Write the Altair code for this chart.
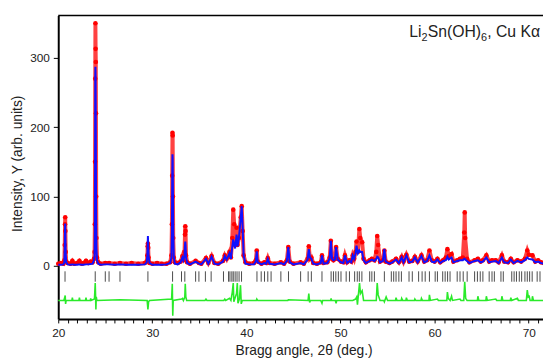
import altair as alt
import pandas as pd

# ---------------- data ----------------
two_theta = [
    20.0, 20.3, 20.55, 20.65, 20.69, 20.72, 20.74, 20.76, 20.79, 20.85, 21.0,
    21.3, 21.5, 21.7, 22.0, 22.25, 22.5, 22.7, 22.95, 23.2, 23.45, 23.65, 23.8,
    23.86, 23.89, 23.91, 23.93, 23.95, 23.97, 23.99, 24.01, 24.03, 24.06, 24.12, 24.25, 24.5,
    25.0, 25.4, 26.0, 26.56, 27.2, 27.8, 28.5, 29.2,
    29.40, 29.47, 29.51, 29.53, 29.56, 29.6, 29.7,
    30.0, 30.5, 31.0, 31.5, 31.9,
    32.03, 32.08, 32.11, 32.14, 32.16, 32.19, 32.22, 32.28, 32.4,
    32.7, 33.0, 33.2, 33.3, 33.42, 33.47, 33.5, 33.53, 33.58, 33.7, 34.0,
    34.6, 34.95, 35.2, 35.7, 35.95, 36.3, 36.6, 37.0, 37.5, 37.7, 37.9,
    38.2, 38.35, 38.5, 38.6, 38.7, 38.8, 38.95, 39.05, 39.2, 39.4, 39.5, 39.6, 39.7, 39.9,
    40.3, 40.8, 41.0, 41.1, 41.2, 41.6, 41.9, 42.1, 42.27, 42.45, 43.0, 43.66, 44.0,
    44.3, 44.45, 44.6, 45.0, 45.76, 46.1, 46.5, 46.63, 46.75, 46.9, 47.1, 47.5,
    47.9, 48.03, 48.2, 48.6, 48.85, 48.97, 49.1, 49.25, 49.4, 49.53, 49.7, 50.05, 50.3, 50.47, 50.7, 50.95, 51.15,
    51.3, 51.45, 51.6, 51.7, 51.85, 52.0, 52.1, 52.3, 52.45, 52.7,
    53.1, 53.33, 53.6, 53.8, 53.9, 54.0, 54.2, 54.5, 54.66, 54.8, 55.2, 55.5, 55.9, 56.2, 56.5, 56.7, 57.0, 57.3,
    57.63, 57.9, 58.2, 58.6, 58.9, 59.2, 59.45, 59.7, 60.0, 60.3, 60.6, 60.9, 61.2, 61.36, 61.5, 61.8, 62.0,
    62.4, 62.7, 63.0, 63.15, 63.2, 63.25, 63.45, 63.7, 64.25, 64.6, 64.9, 65.13, 65.5, 65.8, 66.1, 66.5, 66.8,
    67.15, 67.4, 67.8, 68.1, 68.4, 68.8, 69.2, 69.6, 69.85, 70.0, 70.4, 70.7, 71.0, 71.3, 71.6,
]
y_obs = [
    3, 4, 3, 8, 30, 60, 70, 50, 20, 6, 4,
    3, 7, 3, 4, 7, 3, 4, 7, 4, 6, 5, 10,
    20, 60, 150, 270, 350, 313, 294, 220, 100, 40, 12, 5, 3,
    4, 4, 3, 4, 3, 4, 3, 4,
    6, 15, 28, 32, 26, 12, 4,
    3, 4, 3, 3, 5,
    15, 60, 130, 192, 188, 100, 40, 12, 5,
    4, 6, 14, 8, 20, 45, 57, 50, 15, 5, 3,
    7, 4, 3, 11, 4, 14, 4, 3, 7, 15, 10,
    20, 12, 40, 81, 60, 30, 55, 30, 40, 70, 86, 50, 15, 5,
    3, 4, 8, 22, 6, 3, 5, 4, 11, 4, 3, 5, 3,
    8, 27, 6, 3, 5, 3, 10, 28, 10, 12, 4, 3,
    5, 15, 4, 5, 12, 36, 10, 8, 10, 27, 10, 6, 5, 15, 5, 8, 6,
    15, 10, 20, 35, 20, 53, 40, 34, 10, 5,
    8, 10, 8, 20, 43, 30, 6, 8, 22, 6, 4, 6, 10, 5, 13, 6, 16, 6,
    7, 13, 6, 15, 6, 8, 22, 8, 6, 10, 5, 8, 12, 24, 14, 17, 6,
    8, 10, 12, 48, 77, 40, 10, 5, 8, 10, 6, 8, 15, 6, 8, 8, 5,
    15, 6, 5, 10, 5, 8, 6, 10, 22, 16, 15, 6, 8, 5, 4,
]
y_calc = [
    1.5, 1.5, 2, 5, 25, 55, 61, 45, 18, 5, 2,
    1.5, 2, 1.5, 1.5, 2, 1.5, 1.5, 2, 2, 2.5, 3, 8,
    15, 50, 140, 270, 287, 270, 200, 120, 60, 25, 8, 3, 1.5,
    2, 2, 1.5, 2, 1.5, 1.5, 1.5, 2,
    5, 15, 35, 43, 30, 14, 4,
    1.5, 1.5, 1.5, 2, 4,
    12, 50, 120, 161, 155, 110, 50, 12, 3,
    2, 5, 12, 8, 15, 30, 35, 30, 12, 4, 2,
    6, 3, 2, 10, 3, 13, 3, 2, 6, 14, 9,
    18, 10, 28, 38, 30, 25, 45, 28, 40, 70, 86, 55, 15, 3,
    2, 2, 7, 21, 5, 2, 4, 3, 10, 3, 2, 4, 2,
    7, 27, 5, 2, 4, 2, 9, 24, 12, 10, 3, 2,
    4, 15, 3, 4, 11, 36, 10, 8, 9, 27, 9, 5, 4, 15, 4, 7, 5,
    15, 10, 18, 29, 18, 22, 20, 20, 8, 4,
    7, 9, 7, 10, 13, 12, 5, 7, 24, 6, 3, 5, 9, 4, 12, 5, 15, 5,
    6, 12, 5, 14, 5, 7, 15, 6, 5, 9, 4, 7, 8, 13, 9, 12, 5,
    7, 8, 8, 10, 10, 9, 7, 4, 7, 8, 5, 6, 12, 5, 6, 7, 4,
    12, 5, 4, 9, 4, 7, 5, 8, 12, 10, 9, 5, 6, 4, 3,
]

diff_x = [
    20.0, 20.6, 20.7, 20.74, 20.78, 20.84, 21.45, 21.5, 21.55, 22.2, 22.25, 22.3,
    22.9, 22.95, 23.0, 23.4, 23.45, 23.5, 23.85, 23.93, 23.97, 24.0, 24.04, 24.1,
    26.56, 29.45, 29.53, 29.6, 29.7, 32.05, 32.12, 32.17, 32.22,
    33.1, 33.2, 33.3, 33.45, 33.5, 33.56, 33.65, 35.6, 35.7, 35.8, 37.6, 37.7, 37.8,
    38.2, 38.35, 38.5, 38.6, 38.66, 38.8, 38.95, 39.03, 39.1, 39.25, 39.37, 39.45, 39.55,
    41.05, 41.1, 41.2, 44.4, 44.45, 46.55, 46.63, 46.72, 46.8, 47.9, 48.03, 48.1,
    48.95, 49.0, 49.05, 49.45, 49.53, 49.6, 51.3, 51.6, 51.72, 51.8, 52.02, 52.12, 52.3, 52.45,
    53.8, 53.9, 54.0, 54.2, 54.6, 54.66, 54.85, 55.0, 55.85, 55.9, 56.0, 56.45, 56.5, 56.6,
    56.95, 57.0, 57.1, 57.85, 57.9, 58.0, 58.55, 58.6, 58.7, 59.4, 59.45, 59.55, 60.3, 60.4,
    61.3, 61.36, 61.45, 61.65, 61.8, 61.9, 62.7, 62.8, 63.1, 63.2, 63.3, 63.45,
    64.55, 64.6, 64.7, 65.45, 65.5, 65.6, 66.5, 66.6, 67.1, 67.15, 67.25, 68.05, 68.1, 68.2,
    68.8, 68.9, 69.75, 69.85, 69.95, 70.05, 70.15, 70.35, 70.4, 70.5, 71.6,
]
diff_y = [
    -50, -50, -45, -43, -55, -50, -50, -46, -50, -50, -46, -50,
    -50, -46, -50, -50, -47, -50, -48, -25, -45, -63, -45, -50,
    -49, -50, -63, -52, -50, -48, -26, -72, -50,
    -48, -47, -50, -45, -26, -45, -50, -50, -48, -50, -50, -48, -50,
    -47, -50, -38, -25, -52, -46, -40, -25, -54, -48, -28, -55, -50,
    -50, -48, -50, -50, -49, -50, -40, -53, -50, -50, -54, -50,
    -50, -47, -50, -50, -54, -50, -50, -48, -45, -56, -25, -40, -36, -50,
    -50, -25, -42, -50, -50, -52, -45, -50, -50, -46, -50, -50, -47, -50,
    -50, -46, -50, -50, -48, -50, -50, -47, -50, -50, -42, -50, -48, -50,
    -50, -38, -47, -50, -44, -50, -48, -50, -50, -23, -47, -50,
    -50, -44, -50, -50, -44, -50, -48, -50, -50, -44, -50, -50, -46, -50,
    -47, -50, -50, -35, -45, -44, -50, -50, -44, -50, -50,
]

bragg_positions = [
    20.72, 23.93, 25.0, 25.4, 26.56, 29.53, 32.15, 33.1, 33.45, 34.6, 34.95,
    35.64, 36.25, 37.56, 38.1, 38.25, 38.45, 38.6, 38.8, 39.0, 39.22, 39.48,
    41.12, 41.57, 41.92, 42.27, 42.62, 43.66, 44.47, 45.76, 46.56, 46.9, 48.03,
    49.0, 49.25, 49.5, 49.77, 50.05, 50.6, 50.95, 51.5, 51.78, 52.0, 52.27,
    53.1, 53.33, 53.6, 54.66, 55.4, 55.65, 55.9, 56.2, 56.47, 57.28, 57.63,
    58.3, 58.67, 59.0, 59.45, 60.06, 60.3, 60.86, 61.12, 61.38, 61.64, 62.4,
    62.7, 63.04, 63.46, 64.25, 64.55, 64.85, 65.13, 65.8, 66.1, 66.35, 67.05,
    67.3, 68.2, 68.45, 68.7, 69.0, 69.25, 69.6, 69.85, 70.1, 70.37, 70.9, 71.2,
]

y_tick_values = [0, 100, 200, 300]
x_tick_values = list(range(20, 72))
# formula label pieces: (text, is_subscript)
label_pieces = [("Li", False), ("2", True), ("Sn(OH)", False), ("6", True), (", Cu K\u03b1", False)]
x_title = "Bragg angle, 2\u03b8 (deg.)"
y_title = "Intensity, Y (arb. units)"

assert len(two_theta) == len(y_obs) == len(y_calc)
assert len(diff_x) == len(diff_y)

# ---------------- chart ----------------
W, H = 492, 308
FONT = "Liberation Sans"
MAIN_FS, SUB_FS = 16, 11

profile = pd.DataFrame({"x": two_theta, "obs": y_obs, "calc": y_calc})
diff_df = pd.DataFrame({"x": diff_x, "d": diff_y})
bragg_df = pd.DataFrame({"x": bragg_positions})

xs = alt.Scale(domain=[20, 71.52], nice=False, zero=False)
ys = alt.Scale(domain=[-76.8, 361.1], nice=False, zero=False)

x_axis = alt.Axis(
    title=x_title, values=x_tick_values,
    labelExpr="datum.value % 10 === 0 ? datum.label : ''",
    tickSize=4, labelPadding=5, labelFlush=False,
    titleX=249, titleY=36, titleBaseline="alphabetic", titleAlign="center",
)
y_axis = alt.Axis(
    title=y_title, values=y_tick_values, tickSize=5, labelPadding=4,
    titleX=-37, titleY=150, titleBaseline="alphabetic", titleAlign="center", titleAngle=-90,
)

X = alt.X("x:Q", scale=xs, axis=x_axis)

ticks = alt.Chart(bragg_df).transform_calculate(t1="-8", t2="-23").mark_rule(
    color="#4a4a4a", strokeWidth=1
).encode(x=X, y=alt.Y("t1:Q", scale=ys, axis=y_axis), y2="t2:Q")

diff_line = alt.Chart(diff_df).mark_line(color="#2aea2a", strokeWidth=1.6).encode(
    x=X, y=alt.Y("d:Q", scale=ys, axis=y_axis)
)

obs_band = alt.Chart(profile).mark_line(color="#ff2020", strokeWidth=4, opacity=0.85).encode(
    x=X, y=alt.Y("obs:Q", scale=ys, axis=y_axis)
)
obs_pts = alt.Chart(profile).mark_circle(color="#ff0000", size=22, opacity=1).encode(
    x=X, y=alt.Y("obs:Q", scale=ys, axis=y_axis)
)
calc_line = alt.Chart(profile).mark_line(color="#1010ff", strokeWidth=2).encode(
    x=X, y=alt.Y("calc:Q", scale=ys, axis=y_axis)
)

# label built from pieces, laid out right-to-left from the right end
char_w = {"L": 0.556, "i": 0.222, "S": 0.667, "n": 0.556, "(": 0.333, "O": 0.778,
          "H": 0.722, ")": 0.333, ",": 0.278, " ": 0.278, "C": 0.722, "u": 0.556,
          "K": 0.667, "\u03b1": 0.58, "2": 0.556, "6": 0.556}
one = pd.DataFrame({"a": [0]})
label_layers = []
right = 489
for text, sub in reversed(label_pieces):
    fs = SUB_FS if sub else MAIN_FS
    w = sum(char_w.get(c, 0.55) for c in text) * fs
    label_layers.append(
        alt.Chart(one).mark_text(
            text=text, align="right", baseline="alphabetic", font=FONT,
            fontSize=fs, color="#222",
        ).encode(x=alt.value(right), y=alt.value(26 if sub else 22))
    )
    right -= w

top_border = alt.Chart(one).mark_rule(color="black", strokeWidth=1.5).encode(
    x=alt.value(0), x2=alt.value(W), y=alt.value(0)
)

chart = alt.layer(ticks, diff_line, obs_band, obs_pts, calc_line, *label_layers, top_border).properties(
    width=W, height=H,
    padding={"left": 51, "top": 5, "right": 0, "bottom": 41},
    autosize=alt.AutoSizeParams(type="none"),
).configure_view(stroke=None).configure_axis(
    grid=False, domainColor="black", domainWidth=2, tickColor="black", tickWidth=1,
    labelFont=FONT, labelFontSize=12, labelColor="#222",
    titleFont=FONT, titleFontSize=14, titleFontWeight="normal", titleColor="#222",
)

chart.save("out.html", embed_options={"renderer": "svg", "actions": False})
